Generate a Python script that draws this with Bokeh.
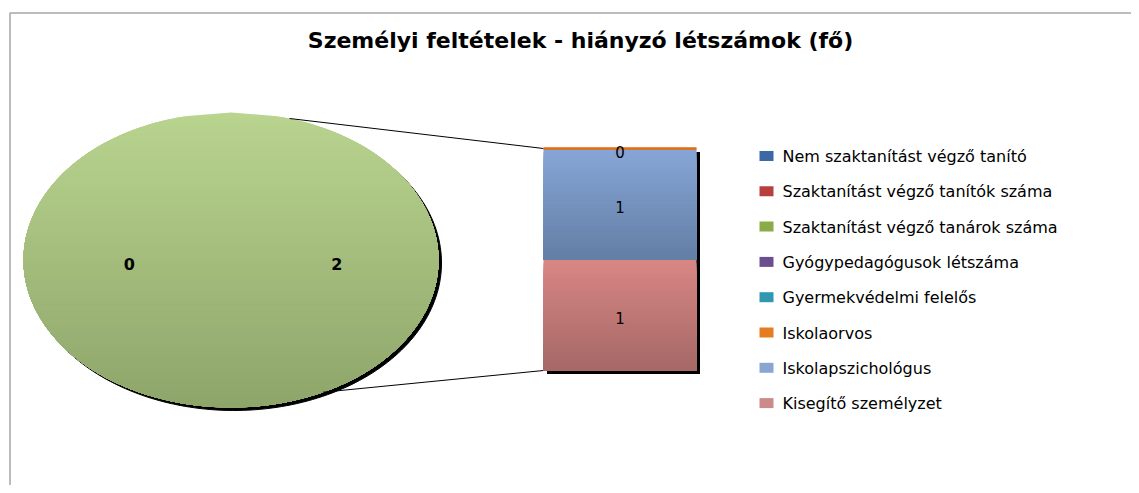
import numpy as np
from bokeh.plotting import figure
from bokeh.models import Range1d
from bokeh.core.properties import value
from bokeh.embed import file_html
from bokeh.resources import INLINE

# ---------------- data ----------------
title_text = "Személyi feltételek - hiányzó létszámok (fő)"
categories = [
    "Nem szaktanítást végző tanító",
    "Szaktanítást végző tanítók száma",
    "Szaktanítást végző tanárok száma",
    "Gyógypedagógusok létszáma",
    "Gyermekvédelmi felelős",
    "Iskolaorvos",
    "Iskolapszichológus",
    "Kisegítő személyzet",
]
legend_colors = ["#3b69a6", "#b8403c", "#8aab48", "#6a4f8e", "#2f97b0", "#e57c22", "#8aa6d0", "#cc8a88"]

pie_labels = ["0", "2"]
pie_values = [0, 2]

bar_categories = ["Kisegítő személyzet", "Iskolapszichológus", "Iskolaorvos"]
bar_values = [1, 1, 0]
bar_top_colors = ["#d98784", "#87a6d7", "#e46c0a"]
bar_bottom_colors = ["#a46866", "#637ea5", "#e46c0a"]

# ---------------- style ----------------
W, H = 1131, 485
CX, CY, RX, RY = 230.5, 259.5, 207.5, 147.5
BAR_L, BAR_R = 543, 696
BAR_BASE_PX, BAR_UNIT_PX = 370.0, 111.0
PIE_TOP, PIE_BOT = "#b9d48f", "#8ea56a"


def mix(c1, c2, t):
    a = [int(c1[i:i + 2], 16) for i in (1, 3, 5)]
    b = [int(c2[i:i + 2], 16) for i in (1, 3, 5)]
    return "#%02x%02x%02x" % tuple(int(round(a[k] + (b[k] - a[k]) * t)) for k in range(3))


p = figure(width=W, height=H, x_range=Range1d(0, W), y_range=Range1d(H, 0),
           output_backend="svg", toolbar_location=None, min_border=0,
           outline_line_color=None, background_fill_color="white", border_fill_color="white")
p.axis.visible = False
p.xgrid.visible = False
p.ygrid.visible = False
p.extra_y_ranges = {"bar": Range1d((BAR_BASE_PX - H) / BAR_UNIT_PX, BAR_BASE_PX / BAR_UNIT_PX)}


def bar_px(v):
    return BAR_BASE_PX - BAR_UNIT_PX * v


# chart border
p.line([9.5, 9.5, W + 5], [H + 5, 12.5, 12.5], line_color="#a6a6a6", line_width=1.5)

# title
p.text(x=[580], y=[40], text=[title_text], text_font=value("DejaVu Sans"), text_font_style="bold",
       text_font_size="22px", text_align="center", text_baseline="middle", text_color="black")

# ---------------- pie (elliptical) ----------------
t = np.linspace(0, 2 * np.pi, 240)
p.patch(CX + 3 + RX * np.cos(t), CY + 3 + RY * np.sin(t), fill_color="black", line_color="black", line_width=1)

total = sum(pie_values)
start = 0.0
for v in pie_values:
    if v <= 0:
        continue
    frac = v / total
    if frac >= 0.9999:
        n = 60
        edges = np.linspace(CY - RY, CY + RY, n + 1)
        xs, ys, cols = [], [], []
        for i in range(n):
            yy = np.linspace(edges[i], CY + RY, 80)
            half = RX * np.sqrt(np.clip(1 - ((yy - CY) / RY) ** 2, 0, 1))
            xs.append(list(CX - half) + list((CX + half)[::-1]))
            ys.append(list(yy) + list(yy[::-1]))
            cols.append(mix(PIE_TOP, PIE_BOT, (i + 0.5) / n))
        p.patches(xs, ys, fill_color=cols, line_color=None)
    else:
        a = np.linspace(start, start + 2 * np.pi * frac, 100)
        p.patch([CX] + list(CX + RX * np.cos(a)), [CY] + list(CY - RY * np.sin(a)),
                fill_color=PIE_TOP, line_color=None)
    start += 2 * np.pi * frac

p.text(x=[CX - 0.49 * RX, CX + 0.51 * RX], y=[263, 263], text=pie_labels,
       text_font=value("DejaVu Sans"), text_font_style="bold", text_font_size="16px",
       text_align="center", text_baseline="middle", text_color="black")

# connector lines
a_top, a_bot = np.deg2rad(73.6), np.deg2rad(-63.7)
bar_total = sum(bar_values)
p.line([CX + RX * np.cos(a_top), BAR_L], [CY - RY * np.sin(a_top), bar_px(bar_total)], line_color="black", line_width=1)
p.line([CX + RX * np.cos(a_bot), BAR_L], [CY - RY * np.sin(a_bot), bar_px(0)], line_color="black", line_width=1)

# ---------------- stacked bar ----------------
off = 3.5 / BAR_UNIT_PX
p.quad(left=[BAR_L + 3.5], right=[BAR_R + 3.5], top=[bar_total - off], bottom=[-off],
       fill_color="black", line_color=None, y_range_name="bar")

bottom = 0.0
lx, ly, lt = [], [], []
for v, ct, cb in zip(bar_values, bar_top_colors, bar_bottom_colors):
    if v > 0:
        n = 30
        edges = np.linspace(bottom + v, bottom, n + 1)
        cols = [mix(ct, cb, (i + 0.5) / n) for i in range(n)]
        p.quad(left=BAR_L, right=BAR_R, top=edges[:-1], bottom=[bottom] * n, fill_color=cols,
               line_color=None, y_range_name="bar")
        ly.append(bottom + v / 2 - 0.03)
    else:
        p.line([BAR_L, BAR_R], [bottom, bottom], line_color=ct, line_width=2.5, y_range_name="bar")
        ly.append(bottom - 0.035)
    lx.append((BAR_L + BAR_R) / 2)
    lt.append(str(v))
    bottom += v

p.text(x=lx, y=ly, text=lt, text_font=value("DejaVu Sans"), text_font_size="15px",
       text_align="center", text_baseline="middle", text_color="black", y_range_name="bar")

# ---------------- legend ----------------
rows = 155.5 + 35.3 * np.arange(len(categories))
p.rect(x=[766] * len(categories), y=rows, width=14, height=10, fill_color=legend_colors, line_color=None)
p.text(x=[782] * len(categories), y=rows + 0.5, text=categories, text_font=value("DejaVu Sans"),
       text_font_size="16px", text_align="left", text_baseline="middle", text_color="black")

open("out.html", "w").write(file_html(p, INLINE))
